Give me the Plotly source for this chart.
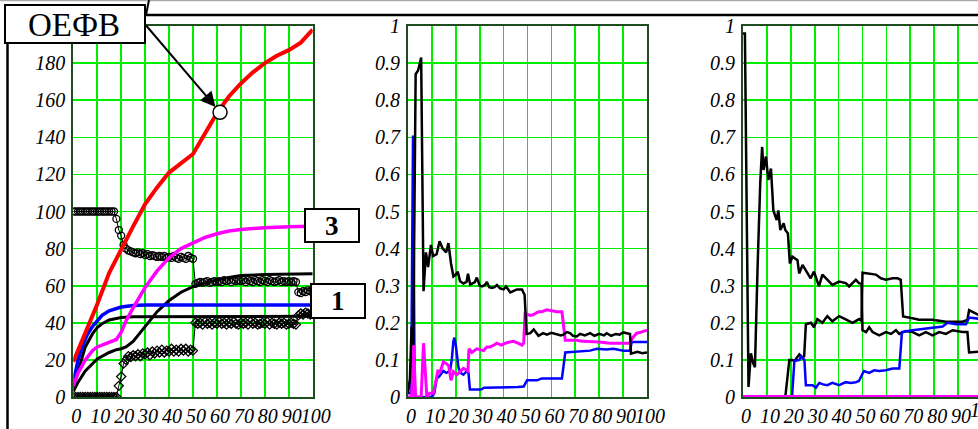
import plotly.graph_objects as go

W, H = 978, 429

# ---------------- data: panel 1 ----------------
p1_red = [(0, 19), (5, 34), (10, 50), (15, 67), (20, 80), (25, 92), (30, 104), (35, 113),
          (40, 121), (45, 126), (50, 131), (55, 142), (60, 153), (65, 162), (70, 169),
          (75, 175), (80, 180), (85, 184), (90, 187), (95, 191), (100, 198)]
p1_magenta = [(0, 6), (2, 13), (5, 20), (8, 25), (10, 27), (15, 29.5), (18, 31), (20, 35),
              (22, 41), (25, 48), (30, 59), (35, 68), (40, 75), (45, 80), (50, 83), (55, 86),
              (60, 88), (65, 89.5), (70, 90.3), (80, 91.3), (90, 91.8), (100, 92)]
p1_blue = [(0, 8), (2, 20), (4, 28), (6, 34), (8, 38), (10, 41), (12, 44), (15, 46.5),
           (20, 48.5), (25, 49.3), (30, 49.6), (100, 49.6)]
p1_black_a = [(0, 5), (2, 14), (5, 27), (8, 34), (10, 37.5), (12, 39.5), (15, 41.5),
              (20, 42.8), (25, 43.3), (100, 43.5)]
p1_black_b = [(0, 3), (2, 8), (5, 14), (8, 18), (10, 20.5), (15, 24), (18, 25.5), (20, 26),
              (22, 27), (25, 30), (30, 38), (35, 46), (40, 52), (45, 56.5), (50, 59.5),
              (55, 61.5), (60, 63), (65, 64.5), (70, 65.5), (80, 66), (100, 66.5)]
p1_marker_x = list(range(0, 101))
p1_circles = [100] * 18 + [
    96, 90, 87, 82, 80, 79, 78.5, 78, 77.5, 78, 77, 77.5, 76.5, 77, 76, 76.5, 76, 75.5,
    76, 75.5, 76, 75, 75.5, 75, 76, 75, 74.5, 75.5, 75, 74.5, 76, 75, 74.5,
    61, 61.5, 62, 61.5, 62, 62.5, 61.5, 62, 62.5, 62, 62.5, 62, 63, 62.5, 63, 62, 63,
    62.5, 63, 62.5, 63, 62, 63, 62.5, 62, 63, 62.5, 62, 63, 62.5, 62, 63, 62.5, 62,
    62.5, 63, 62, 62.5, 62, 62.5, 62, 62.5, 62,
    56.5, 56, 57, 56.5, 57.5, 57, 58]
p1_diamonds = [0] * 19 + [
    6, 11, 18, 20, 22, 21.5, 22.5, 22, 23, 22, 23.5, 23, 24, 22.5, 24.5, 23.5, 25, 24,
    25.5, 24, 25, 24.5, 26, 24.5, 25.5, 24.5, 26, 25, 26, 24.5, 25.5, 25,
    40, 39.5, 40, 39, 40.5, 39.5, 40, 39, 40, 39.5, 40.5, 39.5, 40, 39, 40, 39.5, 40.5,
    39.5, 39, 40, 39.5, 40, 39, 40.5, 39.5, 40, 39, 39.5, 40, 39.5, 40.5, 39, 40, 39.5,
    39, 40, 39.5, 40, 39, 39.5, 40, 39.5, 39,
    44, 45, 44.5, 45.5, 45, 44.5, 45]

# ---------------- data: panel 2 ----------------
p2_black = [(0, 0.01), (0.8, 0.05), (1.5, 0.19), (2.2, 0.14), (3.2, 0.87), (4.2, 0.88), (5, 0.9),
            (5.5, 0.915), (6.5, 0.285), (7.5, 0.39), (8.4, 0.35), (9.6, 0.41), (10.5, 0.38),
            (12, 0.385), (13.2, 0.42), (14.5, 0.4), (16, 0.39), (16.9, 0.415), (18, 0.36),
            (19, 0.325), (20, 0.33), (20.8, 0.338), (21.8, 0.312), (23.2, 0.306), (24.5, 0.31),
            (25.1, 0.332), (26, 0.303), (28, 0.31), (28.8, 0.322), (30, 0.3), (31, 0.298),
            (32.2, 0.302), (33, 0.31), (34, 0.296), (35.1, 0.294), (36.2, 0.296), (37.2, 0.302),
            (38.5, 0.293), (40, 0.29), (41, 0.298), (42.8, 0.282), (44, 0.286), (45.6, 0.29),
            (47.7, 0.29), (48.8, 0.275), (49.6, 0.17), (51.2, 0.172), (52.6, 0.182),
            (54.6, 0.165), (56.5, 0.172), (58.1, 0.168), (60, 0.173), (62.3, 0.17), (64, 0.166),
            (65, 0.168), (66.5, 0.175), (67.8, 0.172), (69, 0.165), (70.6, 0.163), (72, 0.17),
            (74, 0.166), (76.2, 0.172), (78, 0.165), (80, 0.17), (82, 0.166), (83.1, 0.172),
            (85, 0.165), (87, 0.17), (88.5, 0.168), (90.1, 0.174), (92.9, 0.17), (93.3, 0.117),
            (96, 0.122), (98, 0.118), (100, 0.12)]
p2_magenta = [(0, 0), (1.5, 0), (2.3, 0.14), (3.2, 0), (5.5, 0), (6.5, 0.145), (7.9, 0),
              (9, 0.01), (10.6, 0.01), (11.5, 0.04), (12.5, 0.07), (13.5, 0.068), (14.8, 0.095),
              (16, 0.09), (17, 0.085), (18, 0.045), (19, 0.068), (20.4, 0.06), (21.8, 0.068),
              (23.2, 0.077), (24.6, 0.072), (25.1, 0.07), (25.5, 0.13), (26.7, 0.12),
              (28.8, 0.13), (30, 0.128), (31.6, 0.125), (33, 0.135), (34.4, 0.135), (36, 0.14),
              (37.2, 0.145), (39, 0.14), (40.7, 0.145), (42.5, 0.148), (44.2, 0.15), (46, 0.145),
              (47.7, 0.14), (48.4, 0.145), (49, 0.225), (51.2, 0.22), (52.5, 0.222),
              (54.6, 0.23), (56, 0.23), (58.1, 0.235), (60, 0.232), (62.3, 0.23), (64.4, 0.23),
              (65.8, 0.153), (68, 0.153), (70.6, 0.153), (73, 0.15), (76.2, 0.15), (80, 0.148),
              (84.5, 0.145), (88, 0.145), (92.9, 0.145), (94, 0.16), (95.7, 0.172),
              (97.5, 0.175), (100, 0.18)]
p2_blue = [(0, 0.01), (1.3, 0.01), (2.1, 0.705), (2.8, 0.0), (10, 0.0), (11, 0.01), (12, 0.05),
           (13, 0.055), (14.8, 0.07), (16, 0.065), (17.6, 0.07), (18.3, 0.1), (19, 0.15),
           (19.4, 0.16), (20, 0.14), (21.1, 0.08), (22, 0.065), (23.2, 0.06), (24.6, 0.07),
           (25.3, 0.065), (25.9, 0.02), (28, 0.02), (30.5, 0.02), (31.9, 0.025), (34, 0.025),
           (37.2, 0.025), (40, 0.027), (44.2, 0.025), (46, 0.027), (48.4, 0.028), (49.8, 0.045),
           (52, 0.045), (54, 0.045), (56, 0.05), (59.5, 0.05), (62, 0.05), (64.4, 0.05),
           (65.8, 0.12), (70, 0.122), (73, 0.125), (76.2, 0.125), (79, 0.13), (83, 0.128),
           (86, 0.13), (90.1, 0.125), (92.9, 0.125), (93.6, 0.148), (100, 0.148)]

# ---------------- data: panel 3 ----------------
p3_black_a = [(0, 0.98), (0.8, 0.98), (2.3, 0.027), (3.3, 0.118), (4.3, 0.09), (5, 0.08),
              (6.1, 0.35), (7.2, 0.575), (8, 0.674), (8.6, 0.612), (9.6, 0.648), (10.6, 0.585),
              (11.7, 0.616), (12.7, 0.503), (14.1, 0.477), (14.8, 0.503), (15.6, 0.45),
              (17, 0.468), (17.7, 0.45), (18.8, 0.441), (19.6, 0.36), (20.7, 0.378),
              (22.8, 0.369), (23.5, 0.333), (24.9, 0.356), (27, 0.333), (28.3, 0.32),
              (29.7, 0.338), (31.8, 0.298), (33.2, 0.33), (35.3, 0.316), (37.4, 0.302),
              (40.2, 0.311), (43, 0.307), (44.4, 0.298), (45.8, 0.307), (47.2, 0.316),
              (48.5, 0.307), (49.6, 0.305), (50, 0.18), (51.5, 0.175), (52.8, 0.188),
              (54.2, 0.175), (57, 0.166), (59.8, 0.175), (61.9, 0.17), (64, 0.18), (65.4, 0.17),
              (68.2, 0.178), (71, 0.175), (73.7, 0.166), (76.5, 0.175), (79.3, 0.166),
              (82.1, 0.175), (84.9, 0.17), (87.7, 0.18), (91.8, 0.175), (93.9, 0.175),
              (94.6, 0.12), (100, 0.123)]
p3_black_b = [(16.5, 0), (17.7, 0.0), (19.4, 0.1), (20.5, 0.1), (21.5, 0.097), (23.6, 0.115),
              (24.9, 0.106), (25.6, 0.11), (26.3, 0.196), (28.4, 0.2), (29.7, 0.188),
              (31.1, 0.21), (33.2, 0.2), (35.3, 0.218), (37.4, 0.204), (40.2, 0.218), (43, 0.209),
              (45.8, 0.2), (48.6, 0.21), (49.6, 0.205), (50, 0.335), (52.8, 0.333),
              (55.6, 0.33), (57.7, 0.32), (59.8, 0.316), (62.6, 0.32), (64.7, 0.32), (66, 0.316),
              (67, 0.217), (70.9, 0.212), (73.7, 0.208), (79.3, 0.208), (84.9, 0.203),
              (91.8, 0.203), (93.9, 0.208), (94.6, 0.234), (100, 0.217)]
p3_blue = [(20, 0), (20.5, 0.0), (21.5, 0.097), (23.6, 0.1), (24.3, 0.11), (25.7, 0.1),
           (26.3, 0.032), (29.1, 0.032), (30.5, 0.025), (31.9, 0.038), (33.5, 0.034),
           (35.3, 0.032), (37.4, 0.038), (40.2, 0.032), (43, 0.04), (45, 0.038), (47.2, 0.04),
           (48.5, 0.043), (50.6, 0.07), (52.8, 0.065), (54.9, 0.072), (57, 0.07), (59.8, 0.072),
           (62.6, 0.077), (65.4, 0.077), (66.5, 0.175), (70.9, 0.18), (75.1, 0.184),
           (79.3, 0.188), (83.5, 0.19), (85.6, 0.2), (89.1, 0.196), (93.3, 0.196),
           (94.6, 0.214), (100, 0.21)]
p3_magenta = [(0, 0), (100, 0)]

x_ticks = [0, 10, 20, 30, 40, 50, 60, 70, 80, 90, 100]
x_text = ["0", "10", "20", "30", "40", "50", "60", "70", "80", "90", "100"]
y1_ticks = [0, 20, 40, 60, 80, 100, 120, 140, 160, 180]
y1_text = ["0", "20", "40", "60", "80", "100", "120", "140", "160", "180"]
y2_ticks = [0, 0.1, 0.2, 0.3, 0.4, 0.5, 0.6, 0.7, 0.8, 0.9, 1]
y2_text = ["0", "0.1", "0.2", "0.3", "0.4", "0.5", "0.6", "0.7", "0.8", "0.9", "1"]

callout_point = (61.3, 153.5)

# ---------------- helpers ----------------
def X(px):
    return px / W

def Y(py):
    return 1 - py / H

def xs(pts):
    return [p[0] for p in pts]

def ys(pts):
    return [p[1] for p in pts]

def ital(labels):
    return ["<i>" + t + "</i>" for t in labels]

RED, BLUE, MAG, BLK = "#ff0000", "#0000ff", "#ff00ff", "#000000"

fig = go.Figure()

def line(pts, color, width, xa, ya):
    fig.add_trace(go.Scatter(x=xs(pts), y=ys(pts), mode="lines",
                             line=dict(color=color, width=width),
                             xaxis=xa, yaxis=ya, showlegend=False, hoverinfo="skip"))

# panel 1
fig.add_trace(go.Scatter(x=p1_marker_x, y=p1_diamonds, mode="lines+markers",
                         line=dict(color=BLK, width=1),
                         marker=dict(symbol="diamond-open", size=7, color=BLK, line=dict(width=1.3)),
                         xaxis="x", yaxis="y", showlegend=False, hoverinfo="skip"))
fig.add_trace(go.Scatter(x=p1_marker_x, y=p1_circles, mode="lines+markers",
                         line=dict(color=BLK, width=1),
                         marker=dict(symbol="circle-open", size=7, color=BLK, line=dict(width=1.3)),
                         xaxis="x", yaxis="y", showlegend=False, hoverinfo="skip"))
line(p1_black_b, BLK, 3, "x", "y")
line(p1_black_a, BLK, 3, "x", "y")
line(p1_blue, BLUE, 3.5, "x", "y")
line(p1_magenta, MAG, 3.5, "x", "y")
line(p1_red, RED, 4, "x", "y")
fig.add_trace(go.Scatter(x=[callout_point[0]], y=[callout_point[1]], mode="markers",
                         marker=dict(symbol="circle", size=14, color="white",
                                     line=dict(color=BLK, width=1.5)),
                         xaxis="x", yaxis="y", showlegend=False, hoverinfo="skip",
                         cliponaxis=False))

# panel 2
line(p2_blue, BLUE, 2.5, "x2", "y2")
line(p2_magenta, MAG, 3, "x2", "y2")
line(p2_black, BLK, 2.5, "x2", "y2")

# panel 3
line(p3_black_a, BLK, 2.5, "x3", "y3")
line(p3_black_b, BLK, 2.5, "x3", "y3")
line(p3_blue, BLUE, 2.5, "x3", "y3")
line(p3_magenta, MAG, 4, "x3", "y3")

ydom = [Y(397), Y(26)]
tickfont = dict(family="Liberation Serif", size=20, color="black", style="italic")
axis_common = dict(showline=True, mirror=True, linecolor="#1d4d1d", linewidth=2,
                   showgrid=True, gridcolor="#00ee00", gridwidth=1.6, zeroline=False,
                   tickfont=tickfont, ticks="outside", tickcolor="rgba(0,0,0,0)",
                   fixedrange=True, tickmode="array", automargin=False)
xcommon = dict(tickangle=0, ticklen=0, ticklabelshift=3, **axis_common)
ycommon = dict(ticklen=2, **axis_common)

fig.update_layout(
    template="none",
    width=W, height=H, autosize=False,
    margin=dict(l=0, r=0, t=0, b=0, pad=0),
    paper_bgcolor="white", plot_bgcolor="white",
    showlegend=False,
    xaxis=dict(domain=[X(73.3), X(312.7)], range=[0, 100], tickvals=x_ticks,
               ticktext=ital(x_text), anchor="y", **xcommon),
    yaxis=dict(domain=ydom, range=[0, 200], tickvals=y1_ticks, ticktext=ital(y1_text),
               anchor="x", **ycommon),
    xaxis2=dict(domain=[X(408), X(647)], range=[0, 100], tickvals=x_ticks,
                ticktext=ital(x_text), anchor="y2", **xcommon),
    yaxis2=dict(domain=ydom, range=[0, 1], tickvals=y2_ticks, ticktext=ital(y2_text),
                anchor="x2", **ycommon),
    xaxis3=dict(domain=[X(743), 1.0], range=[0, (W - 743) / 2.39], tickvals=x_ticks,
                ticktext=ital(x_text), anchor="y3", **xcommon),
    yaxis3=dict(domain=ydom, range=[0, 1], tickvals=y2_ticks, ticktext=ital(y2_text),
                anchor="x3", **ycommon),
)

shapes = []
# page artefacts: grey top edge, outer frame
shapes.append(dict(type="line", xref="paper", yref="paper", x0=0, x1=1, y0=Y(0.5), y1=Y(0.5),
                   line=dict(color="#aaaaaa", width=1.5), layer="above"))
shapes.append(dict(type="line", xref="paper", yref="paper", x0=X(145), x1=1, y0=Y(15), y1=Y(15),
                   line=dict(color="black", width=2.5), layer="above"))
shapes.append(dict(type="line", xref="paper", yref="paper", x0=X(7.5), x1=X(7.5), y0=Y(20), y1=0,
                   line=dict(color="black", width=2.5), layer="above"))
shapes.append(dict(type="line", xref="paper", yref="paper", x0=X(146), x1=X(149), y0=Y(15), y1=1,
                   line=dict(color="black", width=2), layer="above"))
# label boxes
for (x0, y0, x1, y1) in [(5, 5, 145, 43), (305, 209, 359, 242), (311, 284, 365, 318)]:
    shapes.append(dict(type="rect", xref="paper", yref="paper",
                       x0=X(x0), x1=X(x1), y0=Y(y1), y1=Y(y0),
                       fillcolor="white", line=dict(color="black", width=2), layer="above"))
fig.update_layout(shapes=shapes)

centered = dict(xanchor="center", yanchor="middle", showarrow=False, xref="paper", yref="paper")
annotations = [
    dict(text="ОЕФВ", x=X(74), y=Y(25), font=dict(family="Liberation Serif", size=33, color="black"),
         **centered),
    dict(text="<b>3</b>", x=X(332), y=Y(226), font=dict(family="Liberation Serif", size=27, color="black"),
         **centered),
    dict(text="<b>1</b>", x=X(338), y=Y(301), font=dict(family="Liberation Serif", size=27, color="black"),
         **centered),
    dict(text="", x=callout_point[0], y=callout_point[1], xref="x", yref="y",
         showarrow=True, ax=-75, ay=-88, arrowhead=2, arrowsize=1.5, arrowwidth=2,
         arrowcolor="black", standoff=7),
    dict(text="<i>100</i>", x=X(985), y=Y(410), font=tickfont, **centered),
]
fig.update_layout(annotations=annotations)

fig.write_html("out.html",
               config={"displayModeBar": False, "staticPlot": True},
               post_script="document.body.style.margin='0';"
                           "document.body.style.overflow='hidden';"
                           "document.documentElement.style.overflow='hidden';")
